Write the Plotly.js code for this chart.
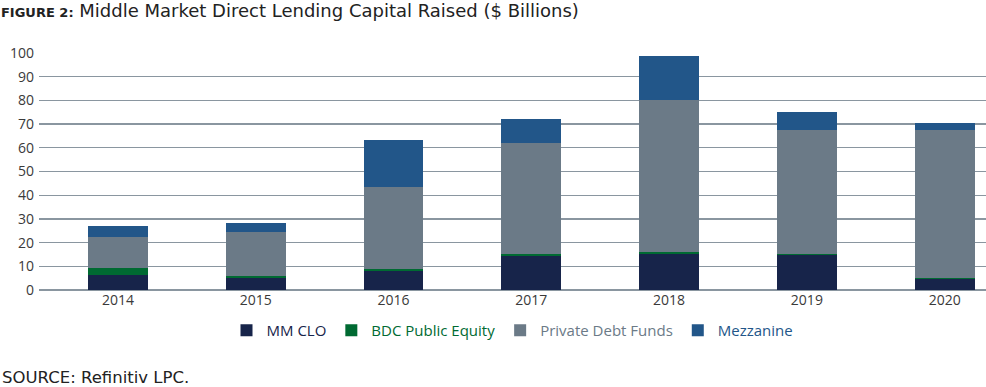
<!DOCTYPE html>
<html><head><meta charset="utf-8">
<script src="https://cdn.plot.ly/plotly-3.0.1.min.js"></script>
<style>html,body{margin:0;padding:0;background:#fff}#chart{width:986px;height:387px}</style>
</head><body><div id="chart"></div>
<script>
var years = ['2014','2015','2016','2017','2018','2019','2020'];
var mmClo = [6.3, 5.1, 8.0, 14.3, 15.1, 14.8, 4.6];
var bdcEquity = [3.0, 0.9, 0.9, 0.8, 0.9, 0.5, 0.6];
var privateDebt = [13.1, 18.5, 34.6, 46.9, 64.2, 52.4, 62.4];
var mezzanine = [4.6, 3.8, 19.8, 10.2, 18.6, 7.2, 2.9];
var seriesNames = ['MM CLO', 'BDC Public Equity', 'Private Debt Funds', 'Mezzanine'];
var colors = ['#17244a', '#006a32', '#6b7a87', '#225689'];
var yTicks = [0,10,20,30,40,50,60,70,80,90,100];

var data = [mmClo, bdcEquity, privateDebt, mezzanine].map(function(v, i){
  return {type:'bar', x: years, y: v, name: '<span style="color:'+colors[i]+'">'+seriesNames[i]+'</span>',
    marker:{color: colors[i], line:{width:0}}, width: 0.435, hoverinfo:'y'};
});

var font = '"Open Sans", Lato, sans-serif';
var wide = '"DejaVu Sans", "Open Sans", sans-serif';
var layout = {
  width: 986, height: 387,
  barmode: 'stack',
  margin: {l: 39, r: 0, t: 53, b: 97},
  paper_bgcolor: '#fff', plot_bgcolor: '#fff',
  font: {family: font, size: 14, color: '#3a3a3a'},
  title: {text: '<b style="font-size:13px">FIGURE 2:</b> Middle Market Direct Lending Capital Raised ($ Billions)',
    x: 0.001, xref: 'container', xanchor: 'left', y: 0.988, yref: 'container', yanchor: 'top',
    font: {family: wide, size: 18, color: '#222'}},
  xaxis: {type: 'category', range: [-0.573, 6.30], showgrid: false, zeroline: false, showline: false,
    ticks: '', tickfont: {size: 14, color: '#3a3a3a'}},
  yaxis: {range: [0, 100], tickvals: yTicks, showgrid: true, gridcolor: '#8a96a0', gridwidth: 1.3,
    zeroline: true, zerolinecolor: '#8a96a0', zerolinewidth: 1.3, ticks: '', showline: false,
    tickfont: {size: 14, color: '#3a3a3a'}, ticklabelstandoff: 4},
  legend: {orientation: 'h', x: 0.5, xanchor: 'center', y: -0.171, yanchor: 'middle',
    font: {size: 15}, traceorder: 'normal', itemwidth: 30},
  showlegend: true,
  annotations: [{text: 'SOURCE: Refinitiv LPC.', xref: 'paper', yref: 'paper', x: -39/947, y: -0.368,
    xanchor: 'left', yanchor: 'middle', showarrow: false, font: {size: 16.5, color: '#222', family: wide}}]
};
Plotly.newPlot('chart', data, layout, {displayModeBar: false, staticPlot: true});
</script></body></html>
